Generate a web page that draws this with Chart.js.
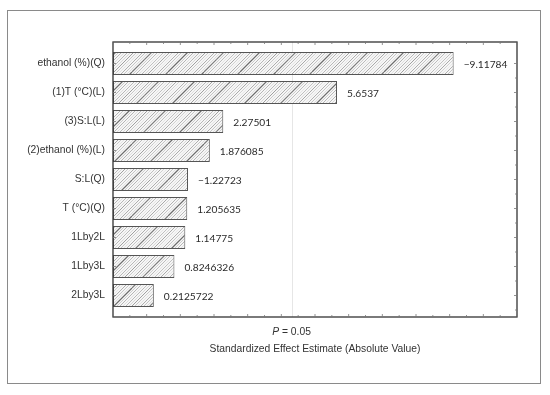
<!DOCTYPE html>
<html>
<head>
<meta charset="utf-8">
<script src="https://cdn.jsdelivr.net/npm/chart.js@4.4.1/dist/chart.umd.min.js"></script>
<style>
  html, body { margin: 0; padding: 0; background: #fff; }
  #wrap { width: 550px; height: 395px; }
</style>
</head>
<body>
<div id="wrap"><canvas id="paretoChart" width="550" height="395"></canvas></div>
<script>
// Pareto chart of standardized effects
const terms = ['ethanol (%)(Q)', '(1)T (°C)(L)', '(3)S:L(L)', '(2)ethanol (%)(L)', 'S:L(Q)', 'T (°C)(Q)', '1Lby2L', '1Lby3L', '2Lby3L'];
const effects = [9.11784, 5.6537, 2.27501, 1.876085, 1.22723, 1.205635, 1.14775, 0.8246326, 0.2125722];
const effectLabels = ['\u22129.11784', '5.6537', '2.27501', '1.876085', '\u22121.22723', '1.205635', '1.14775', '0.8246326', '0.2125722'];
const pLimit = 4.303;
const xMin = -1;
const xMax = 11;

// diagonal hatch fill for the bars
function makeHatch() {
    const c = document.createElement('canvas');
    c.width = 72; c.height = 36;
    const g = c.getContext('2d');
    g.fillStyle = '#f6f6f6';
    g.fillRect(0, 0, 72, 36);
    const greys = ['#a8a8a8', '#cfcfcf', '#8a8a8a', '#bdbdbd', '#dedede', '#9c9c9c', '#b8b8b8', '#d4d4d4', '#7a7a7a', '#c4c4c4', '#adadad', '#e0e0e0',
                   '#b2b2b2', '#d0d0d0', '#969696', '#c9c9c9', '#e4e4e4', '#a0a0a0', '#bababa', '#dadada', '#6c6c6c', '#c0c0c0', '#a5a5a5', '#d8d8d8'];
    const step = 3;
    for (let i = 0; i < 24; i++) {
        const x0 = i * step;
        g.strokeStyle = greys[i];
        g.lineWidth = (i === 8 || i === 20) ? 1.2 : 0.8;
        for (let k = -1; k <= 1; k++) {
            g.beginPath();
            g.moveTo(x0 - 36 + k * 72, 36);
            g.lineTo(x0 + k * 72, 0);
            g.stroke();
        }
    }
    return g.createPattern(c, 'repeat');
}

const framePlugin = {
    id: 'frame',
    beforeDatasetsDraw(chart) {
        const { ctx, chartArea: a, scales: { x } } = chart;
        const top = a.top - 7, bottom = a.bottom + 7;
        const px = x.getPixelForValue(pLimit);
        ctx.save();
        ctx.strokeStyle = '#e6e6e6';
        ctx.lineWidth = 1;
        ctx.beginPath();
        ctx.moveTo(Math.round(px) + 0.5, top);
        ctx.lineTo(Math.round(px) + 0.5, bottom);
        ctx.stroke();
        ctx.restore();
    },
    afterDraw(chart) {
        const { ctx, chartArea: a, scales: { x, y } } = chart;
        const top = a.top - 7, bottom = a.bottom + 7;
        ctx.save();
        // outer border
        ctx.strokeStyle = '#8a8a8a';
        ctx.lineWidth = 1;
        ctx.strokeRect(7.5, 10.5, 533, 373);
        // plot frame
        ctx.strokeStyle = '#333';
        ctx.lineWidth = 1.3;
        ctx.strokeRect(a.left, top, a.right - a.left, bottom - top);
        // tick marks
        ctx.lineWidth = 0.8;
        ctx.strokeStyle = '#777';
        ctx.beginPath();
        for (let v = xMin; v <= xMax; v += 0.5) {
            const p = x.getPixelForValue(v);
            const len = Number.isInteger(v) ? 3 : 2;
            ctx.moveTo(p, top); ctx.lineTo(p, top + len);
            ctx.moveTo(p, bottom); ctx.lineTo(p, bottom - len);
        }
        const step = (y.getPixelForValue(1) - y.getPixelForValue(0)) / 2;
        for (let i = 0; i < terms.length; i++) {
            const p = y.getPixelForValue(i);
            ctx.moveTo(a.left, p); ctx.lineTo(a.left + 3, p);
            ctx.moveTo(a.right, p); ctx.lineTo(a.right - 3, p);
            ctx.moveTo(a.right, p + step); ctx.lineTo(a.right - 2, p + step);
        }
        ctx.stroke();
        // value labels
        ctx.fillStyle = '#2a2a2a';
        ctx.font = '10.2px Lato, "Open Sans", sans-serif';
        ctx.textAlign = 'left';
        ctx.textBaseline = 'middle';
        const meta = chart.getDatasetMeta(0);
        meta.data.forEach((bar, i) => {
            ctx.fillText(effectLabels[i], bar.x + 10, bar.y + 1);
        });
        // significance label and axis title
        ctx.fillStyle = '#333';
        const px = x.getPixelForValue(pLimit);
        const rest = ' = 0.05';
        ctx.font = '10.3px "Liberation Sans", Arial, sans-serif';
        const wRest = ctx.measureText(rest).width;
        ctx.font = 'italic 10.3px "Liberation Sans", Arial, sans-serif';
        const wP = ctx.measureText('P').width;
        const start = px - (wP + wRest) / 2;
        ctx.textAlign = 'left';
        ctx.fillText('P', start, 332);
        ctx.font = '10.3px "Liberation Sans", Arial, sans-serif';
        ctx.fillText(rest, start + wP, 332);
        ctx.textAlign = 'center';
        ctx.fillText('Standardized Effect Estimate (Absolute Value)', (a.left + a.right) / 2, 349);
        ctx.restore();
    }
};

const ctx = document.getElementById('paretoChart').getContext('2d');
const paretoChart = new Chart(ctx, {
    type: 'bar',
    data: {
        labels: terms,
        datasets: [{
            data: effects,
            base: xMin,
            backgroundColor: makeHatch(),
            borderColor: '#555',
            borderWidth: 1,
            borderSkipped: false,
            categoryPercentage: 0.8,
            barPercentage: 1
        }]
    },
    options: {
        indexAxis: 'y',
        responsive: false,
        animation: false,
        events: [],
        layout: {
            padding: { top: 49, right: 33, bottom: 85, left: 0 }
        },
        plugins: {
            legend: { display: false },
            tooltip: { enabled: false }
        },
        scales: {
            x: {
                display: false,
                min: xMin,
                max: xMax
            },
            y: {
                grid: { display: false, drawTicks: false },
                border: { display: false },
                afterFit: scale => { scale.width = 113; },
                ticks: {
                    color: '#333',
                    padding: 8,
                    font: { family: '"Liberation Sans", Arial, sans-serif', size: 10.3 }
                }
            }
        }
    },
    plugins: [framePlugin]
});
</script>
</body>
</html>
